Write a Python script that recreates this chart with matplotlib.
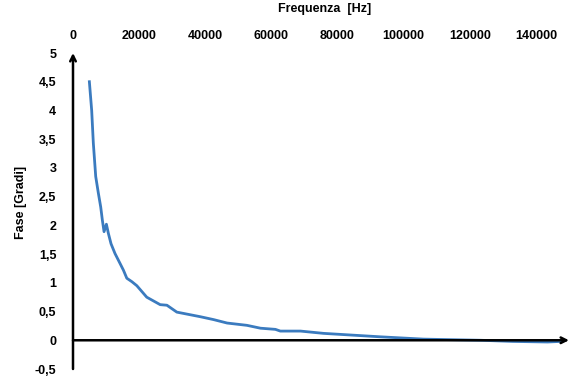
import matplotlib.pyplot as plt
from matplotlib.ticker import FuncFormatter

freq = [4950, 5650, 6150, 6870, 7670, 8380, 8880, 9390, 10100, 10700, 11500,
        12700, 14200, 15250, 16270, 17800, 19300, 22300, 26360, 28400, 31400,
        38500, 42500, 46600, 52600, 56700, 61200, 62700, 68800, 75800, 93000,
        106000, 123300, 133000, 143500, 147500]
fase = [4.50, 4.00, 3.43, 2.85, 2.56, 2.32, 2.09, 1.89, 2.02, 1.86, 1.68,
        1.51, 1.34, 1.22, 1.08, 1.02, 0.95, 0.75, 0.62, 0.61, 0.49,
        0.41, 0.36, 0.30, 0.26, 0.21, 0.19, 0.16, 0.16, 0.12, 0.06,
        0.02, 0.00, -0.02, -0.03, -0.02]

plt.rcParams['font.family'] = ['Liberation Sans', 'DejaVu Sans']

fig = plt.figure(figsize=(5.7, 3.8), dpi=100)
ax = fig.add_axes([73 / 570, 1 - 369 / 380, 496 / 570, 316 / 380])

ax.plot(freq, fase, color='#3b7bbf', lw=2)

ax.set_xlim(0, 150000)
ax.set_ylim(-0.5, 5)
ax.set_xticks(range(0, 140001, 20000))
ax.set_yticks([-0.5, 0, 0.5, 1, 1.5, 2, 2.5, 3, 3.5, 4, 4.5, 5])
ax.yaxis.set_major_formatter(FuncFormatter(lambda v, p: f'{v:g}'.replace('.', ',')))

for s in ax.spines.values():
    s.set_visible(False)

ax.xaxis.tick_top()
ax.xaxis.set_label_position('top')
ax.tick_params(axis='both', length=0, labelsize=9)
ax.tick_params(axis='x', pad=8)
ax.tick_params(axis='y', pad=12)
for lab in ax.get_xticklabels() + ax.get_yticklabels():
    lab.set_fontweight('bold')

# assi con frecce
ax.annotate('', xy=(0, 5), xytext=(0, -0.5),
            arrowprops=dict(arrowstyle='->', lw=1.8, color='black',
                            shrinkA=0, shrinkB=0), annotation_clip=False)
ax.annotate('', xy=(150000, 0), xytext=(0, 0),
            arrowprops=dict(arrowstyle='->', lw=1.8, color='black',
                            shrinkA=0, shrinkB=0), annotation_clip=False)

ax.set_xlabel('Frequenza  [Hz]', fontsize=9, fontweight='bold')
ax.xaxis.set_label_coords(0.508, 1.13)
ax.set_ylabel('Fase [Gradi]', fontsize=9, fontweight='bold')
ax.yaxis.set_label_coords(-0.093, 0.528)

fig.savefig('out.png', dpi=100)
